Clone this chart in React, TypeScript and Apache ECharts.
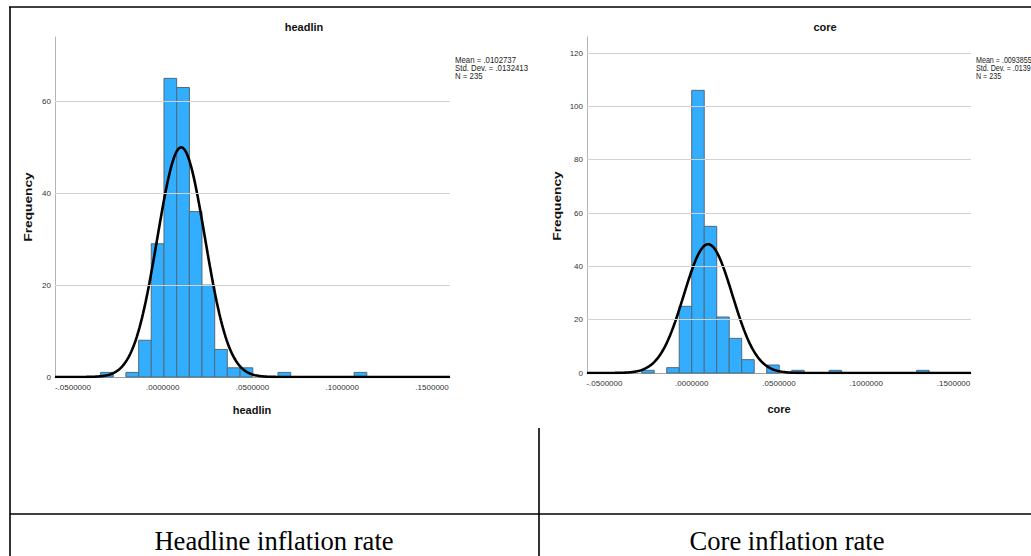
import React, { useEffect, useRef } from 'react';
import * as echarts from 'echarts';

// ---- Headline inflation (headlin) histogram ----
const headlinBinStart = [-0.0346, -0.0205, -0.0134, -0.0064, 0.0007, 0.0078, 0.0148, 0.0219, 0.0289, 0.036, 0.0431, 0.0642, 0.1066];
const headlinCounts = [1, 1, 8, 29, 65, 63, 36, 20, 6, 2, 2, 1, 1];
const headlinBinWidth = 0.00706;
const headlinMean = 0.0102737;
const headlinSd = 0.0132413;
const headlinN = 235;
const headlinStats = ['Mean = .0102737', 'Std. Dev. = .0132413', 'N = 235'];
const headlinYTicks = [20, 40, 60];

// ---- Core inflation (core) histogram ----
const coreBinStart = [-0.02864, -0.01432, -0.00716, 0, 0.00716, 0.01432, 0.02148, 0.02864, 0.04296, 0.05728, 0.07876, 0.12888];
const coreCounts = [1, 2, 25, 106, 55, 21, 13, 5, 3, 1, 1, 1];
const coreBinWidth = 0.00716;
const coreMean = 0.0093855;
const coreSd = 0.0139;
const coreN = 235;
const coreStats = ['Mean = .0093855', 'Std. Dev. = .0139', 'N = 235'];
const coreYTicks = [20, 40, 60, 80, 100, 120];

// ---- shared axis ----
const xTickValues = [-0.05, 0, 0.05, 0.1, 0.15];
const xTickLabels = ['-.0500000', '.0000000', '.0500000', '.1000000', '.1500000'];
const xMin = -0.06;
const xMax = 0.16;

const captions = ['Headline inflation rate', 'Core inflation rate'];

const SANS = '"Liberation Sans", Arial, sans-serif';
const SERIF = '"Liberation Serif", "Times New Roman", serif';

function normalCurve(mean: number, sd: number, n: number, w: number) {
  const pts: number[][] = [];
  const steps = 440;
  for (let i = 0; i <= steps; i++) {
    const x = xMin + ((xMax - xMin) * i) / steps;
    const z = (x - mean) / sd;
    const y = (n * w * Math.exp(-0.5 * z * z)) / (sd * Math.sqrt(2 * Math.PI));
    pts.push([x, y]);
  }
  return pts;
}

function histSeries(idx: number, starts: number[], counts: number[], w: number) {
  return {
    type: 'custom',
    xAxisIndex: idx,
    yAxisIndex: idx,
    z: 2,
    encode: { x: [0, 1], y: 2 },
    data: starts.map((s, i) => [s, s + w, counts[i]]),
    renderItem: (params: any, api: any) => {
      const p0 = api.coord([api.value(0), api.value(2)]);
      const p1 = api.coord([api.value(1), 0]);
      return {
        type: 'rect',
        shape: { x: p0[0], y: p0[1], width: p1[0] - p0[0], height: p1[1] - p0[1] },
        style: { fill: '#33adfd', stroke: '#4f6a7e', lineWidth: 1 },
      };
    },
  };
}

function gridSeries(idx: number, ticks: number[]) {
  return {
    type: 'line',
    xAxisIndex: idx,
    yAxisIndex: idx,
    z: 1,
    data: [[xMin, 0]],
    showSymbol: false,
    lineStyle: { opacity: 0 },
    silent: true,
    markLine: {
      silent: true,
      symbol: 'none',
      label: { show: false },
      lineStyle: { color: '#d3d3d3', width: 1, type: 'solid' },
      data: ticks.map((v) => ({ yAxis: v })),
    },
  };
}

function curveSeries(idx: number, mean: number, sd: number, n: number, w: number) {
  return {
    type: 'line',
    xAxisIndex: idx,
    yAxisIndex: idx,
    z: 3,
    data: normalCurve(mean, sd, n, w),
    showSymbol: false,
    smooth: false,
    lineStyle: { color: '#000', width: 2.6 },
    silent: true,
  };
}

function xAxis(idx: number) {
  return {
    type: 'value',
    gridIndex: idx,
    min: xMin,
    max: xMax,
    interval: 0.01,
    axisLine: { show: true, onZero: false, lineStyle: { color: '#a0a0a0', width: 1 } },
    axisTick: { show: false },
    splitLine: { show: false },
    axisLabel: {
      color: '#333',
      fontFamily: SANS,
      fontSize: 8,
      margin: 6,
      formatter: (v: number) => {
        const i = xTickValues.findIndex((t) => Math.abs(t - v) < 1e-7);
        return i >= 0 ? xTickLabels[i] : '';
      },
    },
  };
}

function yAxis(idx: number, max: number) {
  return {
    type: 'value',
    gridIndex: idx,
    min: 0,
    max,
    interval: 20,
    axisLine: { show: true, onZero: false, lineStyle: { color: '#b4b4b4', width: 1 } },
    axisTick: { show: false },
    splitLine: { show: false },
    axisLabel: {
      color: '#333',
      fontFamily: SANS,
      fontSize: 8,
      margin: 4,
      showMaxLabel: false,
    },
  };
}

function statTexts(x: number, lines: string[], sx: number) {
  return lines.map((t, i) => ({
    type: 'text',
    x,
    y: 56 + i * 8,
    scaleX: sx,
    style: { text: t, fontFamily: SANS, fontSize: 8.5, fill: '#222' },
  }));
}

function boldText(text: string, cx: number, cy: number, size: number, rotate = false) {
  return {
    type: 'text',
    x: cx,
    y: cy,
    rotation: rotate ? Math.PI / 2 : 0,
    scaleX: rotate ? 1.25 : 1,
    style: {
      text,
      fontFamily: SANS,
      fontWeight: 'bold',
      fontSize: size,
      fill: '#111',
      align: 'center',
      verticalAlign: 'middle',
    },
  };
}

function line(x1: number, y1: number, x2: number, y2: number) {
  return {
    type: 'line',
    shape: { x1, y1, x2, y2 },
    style: { stroke: '#000', lineWidth: 1.6 },
    z: 10,
  };
}

function caption(text: string, cx: number) {
  return {
    type: 'text',
    x: cx,
    y: 541,
    style: { text, fontFamily: SERIF, fontSize: 26.6, fill: '#000', align: 'center', verticalAlign: 'middle' },
  };
}

export default function App() {
  const ref = useRef<HTMLDivElement>(null);
  useEffect(() => {
    document.body.style.margin = '0';
    const chart = echarts.init(ref.current!, null, { renderer: 'svg' });
    const option: any = {
      animation: false,
      backgroundColor: '#fff',
      grid: [
        { left: 55, top: 37, width: 395, height: 340 },
        { left: 587, top: 37, width: 384, height: 336 },
      ],
      xAxis: [xAxis(0), xAxis(1)],
      yAxis: [yAxis(0, 74), yAxis(1, 126)],
      series: [
        gridSeries(0, headlinYTicks),
        histSeries(0, headlinBinStart, headlinCounts, headlinBinWidth),
        curveSeries(0, headlinMean, headlinSd, headlinN, headlinBinWidth),
        gridSeries(1, coreYTicks),
        histSeries(1, coreBinStart, coreCounts, coreBinWidth),
        curveSeries(1, coreMean, coreSd, coreN, coreBinWidth),
      ],
      graphic: [
        line(9, 7, 1031, 7),
        line(10, 7, 10, 556),
        line(539, 428, 539, 556),
        line(10, 514, 1031, 514),
        boldText('headlin', 304, 27, 11),
        boldText('core', 825, 27, 11),
        boldText('headlin', 252, 410, 11),
        boldText('core', 779, 409, 11),
        boldText('Frequency', 28, 207, 11, true),
        boldText('Frequency', 557, 206, 11, true),
        ...statTexts(455, headlinStats, 0.92),
        ...statTexts(976, coreStats, 0.84),
        caption(captions[0], 274),
        caption(captions[1], 787),
      ],
    };
    chart.setOption(option);
    return () => chart.dispose();
  }, []);
  return <div ref={ref} style={{ position: 'absolute', left: 0, top: 0, width: 1031, height: 556, overflow: 'hidden' }} />;
}
